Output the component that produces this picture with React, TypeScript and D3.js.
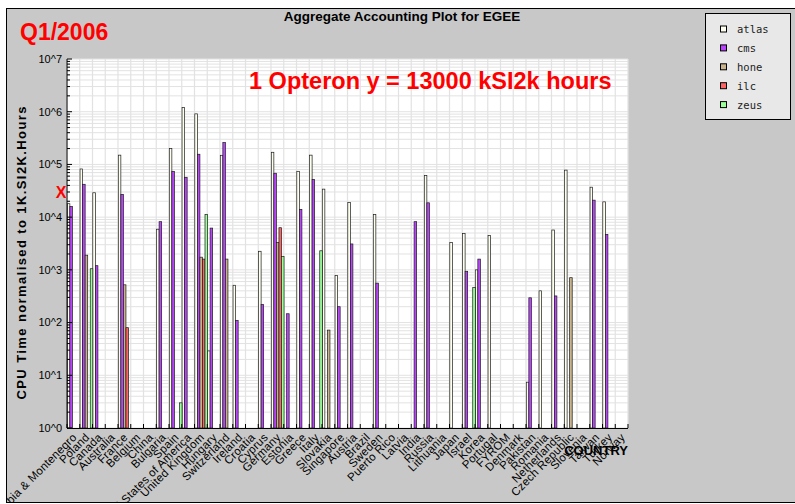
import React from "react";
import * as d3 from "d3";

const countries = [
  "Serbia & Montenegro", "Poland", "Canada", "Australia", "France", "Belgium", "China", "Bulgaria",
  "Spain", "United States of America", "United Kingdom", "Hungary", "Switzerland", "Ireland", "Croatia",
  "Cyprus", "Germany", "Estonia", "Greece", "Italy", "Slovakia", "Singapore", "Austria", "Brazil",
  "Sweden", "Puerto Rico", "Latvia", "India", "Russia", "Lithuania", "Japan", "Israel", "Korea",
  "Portugal", "FYROM", "Denmark", "Pakistan", "Romania", "Netherlands", "Czech Republic", "Slovenia",
  "Taiwan", "Turkey", "Norway",
];

const seriesNames = ["atlas", "cms", "hone", "ilc", "zeus"];
const seriesColors = ["#fffff0", "#bb44ff", "#c8b48c", "#ff6464", "#99ff99"];

const atlas = [1.8e4, 8.2e4, 2.9e4, 0, 1.5e5, 0, 0, 5.9e3, 2.0e5, 1.2e6, 9.1e5, 29, 1.49e5, 510, 0, 2250, 1.7e5, 0, 7.4e4, 1.5e5, 3.4e4, 780, 1.9e4, 0, 1.13e4, 0, 0, 0, 6.2e4, 0, 3300, 4900, 1000, 4500, 0, 0, 7.4, 400, 5700, 7.8e4, 0, 3.7e4, 1.95e4, 0];
const cms = [1.6e4, 4.2e4, 1200, 0, 2.7e4, 0, 0, 8200, 7.4e4, 5.7e4, 1.56e5, 6200, 2.6e5, 110, 0, 220, 6.8e4, 147, 1.4e4, 5.2e4, 0, 200, 3100, 0, 560, 0, 0, 8200, 1.87e4, 0, 0, 940, 1600, 0, 0, 0, 295, 0, 320, 0, 0, 2.1e4, 4700, 0];
const hone = [0, 1900, 0, 0, 520, 0, 0, 0, 0, 0, 1740, 0, 1600, 0, 0, 0, 3300, 0, 0, 0, 72, 0, 0, 0, 0, 0, 0, 0, 0, 0, 0, 0, 0, 0, 0, 0, 0, 0, 0, 710, 0, 0, 0, 0];
const ilc = [0, 0, 0, 0, 80, 0, 0, 0, 0, 0, 1600, 0, 0, 0, 0, 0, 6300, 0, 0, 0, 0, 0, 0, 0, 0, 0, 0, 0, 0, 0, 0, 0, 0, 0, 0, 0, 0, 0, 0, 0, 0, 0, 0, 0];
const zeus = [0, 1050, 0, 0, 0, 0, 0, 0, 3, 0, 1.13e4, 0, 0, 0, 0, 0, 1800, 0, 0, 2300, 0, 0, 0, 0, 0, 0, 0, 0, 0, 0, 0, 460, 0, 0, 0, 0, 0, 0, 0, 0, 0, 0, 0, 0];

const yTickExponents = [0, 1, 2, 3, 4, 5, 6, 7];

const W = 795;
const H = 504;
const PL = 67, PR = 628, PT = 59, PB = 428;
const SANS = "'Liberation Sans', Arial, sans-serif";

export default function App() {
  const seriesData = [atlas, cms, hone, ilc, zeus];
  const x = d3.scaleBand<string>().domain(countries).range([PL, PR]).padding(0);
  const inner = d3.scaleBand<string>().domain(seriesNames).range([0, x.bandwidth()]).padding(0);
  const y = d3.scaleLog().domain([1, 1e7]).range([PB, PT]);
  const ticks = y.ticks();
  const bounds = countries.map((c) => x(c) as number).concat([PR]);

  const bars: any[] = [];
  seriesData.forEach((arr, si) => {
    arr.forEach((v, ci) => {
      if (!v) return;
      const bx = (x(countries[ci]) as number) + (inner(seriesNames[si]) as number) + 0.3;
      const by = y(v);
      bars.push(
        <rect key={`${si}-${ci}`} x={bx} y={by} width={inner.bandwidth()} height={PB - by}
          fill={seriesColors[si]} stroke="#1a1a1a" strokeWidth={0.7} />
      );
    });
  });

  return (
    <svg width={W} height={H} style={{ position: "absolute", left: 0, top: 0 }}>
      <defs>
        <clipPath id="frameclip">
          <rect x={7} y={9} width={800} height={494} />
        </clipPath>
      </defs>
      <rect x={0} y={0} width={W} height={H} fill="#ffffff" />
      <rect x={6.5} y={8.5} width={800} height={494} fill="#c8c8c8" stroke="#000" strokeWidth={1} />
      <g clipPath="url(#frameclip)">
        <rect x={PL} y={PT} width={PR - PL} height={PB - PT} fill="#ffffff" />
        {ticks.map((t, i) => (
          <line key={"hg" + i} x1={PL} x2={PR} y1={y(t)} y2={y(t)} stroke="#e2e2e2" strokeWidth={1} />
        ))}
        {bounds.map((b, i) => (
          <line key={"vg" + i} x1={b} x2={b} y1={PT} y2={PB} stroke="#e2e2e2" strokeWidth={1.2} />
        ))}
        {bars}
        <line x1={PL} x2={PL} y1={PT} y2={PB} stroke="#000" strokeWidth={1} />
        <line x1={PL} x2={PR} y1={PB + 0.5} y2={PB + 0.5} stroke="#000" strokeWidth={1} />
        {ticks.map((t, i) => {
          const lg = Math.log10(t);
          const major = Math.abs(lg - Math.round(lg)) < 1e-9;
          return (
            <line key={"yt" + i} x1={PL} x2={PL + (major ? 5 : 3)} y1={y(t)} y2={y(t)} stroke="#000" strokeWidth={1} />
          );
        })}
        {bounds.map((b, i) => (
          <line key={"xt" + i} x1={b} x2={b} y1={PB} y2={PB - 4} stroke="#000" strokeWidth={1} />
        ))}
        {yTickExponents.map((e) => (
          <text key={"yl" + e} x={62} y={y(Math.pow(10, e))} dy="0.35em" textAnchor="end"
            fontFamily={SANS} fontSize={11} fill="#000">{`10^${e}`}</text>
        ))}
        {countries.map((c) => {
          const cx = (x(c) as number) + x.bandwidth() / 2;
          return (
            <text key={"xl" + c} transform={`translate(${cx + 4},${PB + 10}) rotate(-45)`} textAnchor="end"
              fontFamily={SANS} fontSize={11.5} letterSpacing={0.2} fill="#000">{c}</text>
          );
        })}
        <text x={PR} y={455} textAnchor="end" fontFamily={SANS} fontSize={13} fontWeight="bold" fill="#000">COUNTRY</text>
        <text x={402} y={21} textAnchor="middle" fontFamily={SANS} fontSize={13.5} fontWeight="bold" fill="#000">Aggregate Accounting Plot for EGEE</text>
        <text transform="translate(26,253) rotate(-90)" textAnchor="middle" fontFamily={SANS} fontSize={13}
          fontWeight="bold" fill="#000" textLength={293} lengthAdjust="spacing">CPU Time normalised to 1K.SI2K.Hours</text>
        <text x={20} y={40} fontFamily={SANS} fontSize={23} fontWeight="bold" fill="#ff0000">Q1/2006</text>
        <text x={249} y={89} fontFamily={SANS} fontSize={23.5} fontWeight="bold" fill="#ff0000">1 Opteron y = 13000 kSI2k hours</text>
        <text x={61} y={198} textAnchor="middle" fontFamily={SANS} fontSize={16} fontWeight="bold" fill="#ff0000">X</text>
        <rect x={705.5} y={13.5} width={85} height={106} fill="#e8e8e8" stroke="#000" strokeWidth={1} />
        {seriesNames.map((s, i) => {
          const ry = 29.5 + 18.9 * i;
          return (
            <g key={"lg" + s}>
              <rect x={720.5} y={ry - 3.5} width={6} height={6} fill={seriesColors[i]} stroke="#000" strokeWidth={1} />
              <text x={737} y={ry + 3.5} fontFamily="'DejaVu Sans Mono', monospace" fontSize={10.5} fill="#222">{s}</text>
            </g>
          );
        })}
      </g>
    </svg>
  );
}
